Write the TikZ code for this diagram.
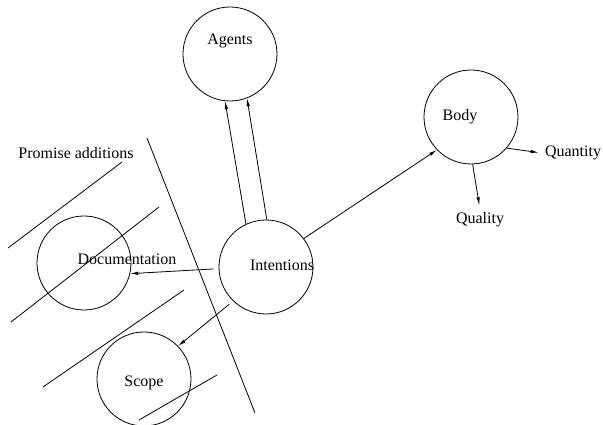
\documentclass[tikz,border=0pt]{standalone}
\usepackage{fontspec}
\setmainfont{Liberation Serif}
\usepackage{tikz}
\usetikzlibrary{shapes,arrows,arrows.meta}
\tikzstyle{line} = [draw, -{Latex[length=8pt,width=3.5pt]}]
\tikzstyle{sepline} = [draw]
\tikzstyle{round} = [draw, circle, minimum size=94pt, inner sep=0pt]
\tikzstyle{lbl} = [font=\fontsize{16}{19}\selectfont, inner sep=3pt]

\begin{document}
\begin{tikzpicture}[x=1pt, y=1pt, line width=0.8pt]
\useasboundingbox (-266,-158) rectangle (337,267);

\node [round] (intc) {};
\node [lbl, right of=intc, node distance=16pt, yshift=2pt] (int) {Intentions};

\node [round, above of=intc, node distance=213pt, xshift=-36pt] (agc) {};
\node [lbl, above of=agc, node distance=13pt] (ag) {Agents};

\node [round, left of=intc, node distance=182pt, yshift=4pt] (docc) {};
\node [lbl, right of=docc, node distance=43pt, yshift=4pt] (doc) {Documentation};

\node [round, left of=intc, node distance=122pt, yshift=-112pt] (scc) {};
\node [lbl, below of=scc, node distance=4pt] (sc) {Scope};

\node [round, right of=intc, node distance=205pt, yshift=150pt] (bodyc) {};
\node [lbl, left of=bodyc, node distance=11pt] (body) {Body};
\node [lbl, right of=bodyc, node distance=102pt, yshift=-36pt] (qty) {Quantity};
\node [lbl, below of=bodyc, node distance=103pt, xshift=9pt] (qual) {Quality};

\node [lbl, above of=docc, node distance=110pt, xshift=-8pt] (prom) {Promise additions};

% separator and hatching
\coordinate (sepa) at (-119,129);
\coordinate (sepb) at (-11,-146);
\coordinate (h1a) at (-258,19);
\coordinate (h1b) at (-144,105);
\coordinate (h2a) at (-255,-55);
\coordinate (h2b) at (-107,60);
\coordinate (h3a) at (-223,-120);
\coordinate (h3b) at (-82,-23);
\coordinate (h4a) at (-127,-153);
\coordinate (h4b) at (-49,-108);
\path [sepline] (sepa) -- (sepb);
\path [sepline] (h1a) -- (h1b);
\path [sepline] (h2a) -- (h2b);
\path [sepline] (h3a) -- (h3b);
\path [sepline] (h4a) -- (h4b);

\path [line] (intc.115) to (agc.-96);
\path [line] (intc.89) to (agc.-69);
\path [line] (intc.37) to (bodyc.-136);
\path [line, shorten >=3pt] (bodyc.-41) to (qty.west);
\path [line, shorten >=4pt] (bodyc.-88) to (qual.north);
\path [line, shorten <=5pt] (intc.182) to (docc.-13);
\path [line, shorten <=5pt] (intc.226) to (scc.44);

\end{tikzpicture}
\end{document}
